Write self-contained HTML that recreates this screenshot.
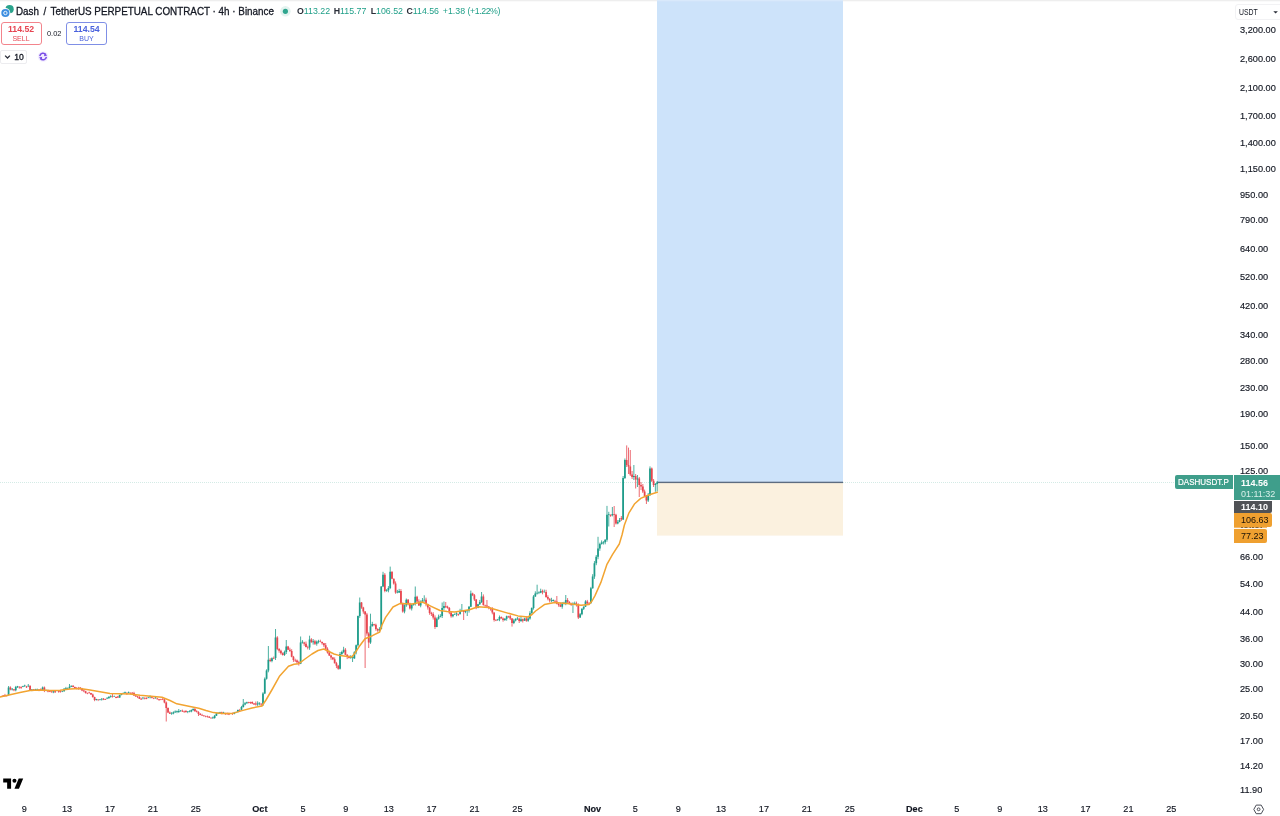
<!DOCTYPE html>
<html lang="en">
<head>
<meta charset="utf-8">
<title>DASHUSDT.P chart</title>
<style>
html,body{margin:0;padding:0;background:#fff;}
body{width:1280px;height:816px;overflow:hidden;position:relative;font-family:"Liberation Sans",sans-serif;color:#131722;}
#chart{position:absolute;left:0;top:0;width:1280px;height:816px;}
.pl{position:absolute;left:1240px;width:40px;height:12px;line-height:12px;font-size:9.2px;color:#131722;white-space:nowrap;-webkit-text-stroke:0.15px #131722;}
.tl{position:absolute;top:802.8px;width:40px;height:12px;line-height:12px;text-align:center;font-size:9.1px;color:#131722;-webkit-text-stroke:0.15px #131722;}
.tl.b{font-weight:bold;}
.abs{position:absolute;white-space:nowrap;}
#title{left:16px;top:3.9px;height:15px;line-height:15px;font-size:10.8px;color:#131722;-webkit-text-stroke:0.3px #131722;transform:scaleX(0.9127);transform-origin:0 0;}
#ohlc{left:297px;top:5.4px;width:210px;height:13px;line-height:13px;font-size:8.8px;color:#1f9f88;}
#ohlc b{color:#2a2e39;font-weight:bold;}
#ohlc span{position:absolute;top:0;}
.box{position:absolute;box-sizing:border-box;border-radius:3px;text-align:center;}
.box .p{display:block;font-size:8.7px;font-weight:bold;line-height:10px;margin-top:0.6px;}
.box .l{display:block;font-size:7px;line-height:9px;margin-top:0.2px;}
.lab{position:absolute;box-sizing:border-box;white-space:nowrap;font-size:9px;}
</style>
</head>
<body>
<svg id="chart" width="1280" height="816" viewBox="0 0 1280 816">
  <rect x="0" y="0" width="1280" height="816" fill="#ffffff"/>
  <rect x="0" y="0" width="1280" height="1.3" fill="#eeeeee"/>
  <!-- long position: target zone and stop zone -->
  <rect x="657" y="0" width="186" height="482" fill="#cde3fa"/>
  <rect x="657" y="0" width="186" height="1.3" fill="#d9e9fb"/>
  <rect x="657" y="483" width="186" height="52.6" fill="#fbf1df"/>
  <rect x="657" y="481.7" width="186" height="1.4" fill="#5d6c80"/>
  <!-- last price dotted line -->
  <line x1="0" y1="482.4" x2="657" y2="482.4" stroke="#a9d6cd" stroke-width="0.8" stroke-dasharray="1 1" opacity="0.7"/>
  <line x1="843" y1="482.4" x2="1176" y2="482.4" stroke="#a9d6cd" stroke-width="0.8" stroke-dasharray="1 1" opacity="0.7"/>
  <!-- hidden label sliver between the two orange labels -->
  <rect x="1234" y="526.9" width="33" height="1.2" fill="#f3b96a"/>
  <line x1="1241" y1="527.5" x2="1263" y2="527.5" stroke="#5a4520" stroke-width="1" stroke-dasharray="2 1.5 3 2 1.5 1" opacity="0.7"/>
  <!-- candles -->
  <g fill="none" stroke-linecap="butt">
    <path stroke="#1f9c8a" stroke-width="0.9" opacity="0.9" d="M8.57 686.0V695.7M12.16 688.0V690.5M15.74 685.9V691.3M17.53 685.9V688.0M22.91 685.8V687.2M24.70 684.7V687.0M28.28 684.0V687.1M31.87 689.0V691.2M35.45 688.8V690.3M37.24 688.6V690.5M42.62 686.5V690.7M46.20 689.6V691.2M53.37 691.1V693.2M56.95 690.2V691.3M62.33 690.6V692.1M64.12 688.1V692.0M65.91 686.9V689.9M67.70 687.5V689.3M69.49 684.0V689.0M71.28 685.5V687.1M96.37 698.8V700.5M99.95 699.0V700.4M101.74 698.1V700.6M107.12 697.0V699.1M108.91 696.4V699.0M110.70 695.2V697.7M114.28 695.6V696.8M119.66 694.6V697.9M121.45 693.2V695.3M123.24 692.4V694.0M125.03 691.6V693.3M128.62 691.5V693.4M142.95 697.0V699.4M148.32 696.8V698.2M150.12 695.4V698.4M155.49 696.8V698.6M171.62 712.1V714.8M173.41 711.4V714.3M175.20 710.4V713.0M176.99 710.5V713.2M178.78 709.0V712.9M180.57 710.2V711.8M187.74 711.1V713.2M189.53 710.3V712.3M191.32 709.4V712.3M193.12 708.3V711.1M212.82 716.6V718.7M214.62 714.9V718.7M216.41 712.7V716.0M218.20 712.5V714.1M219.99 711.8V713.6M223.57 711.8V713.5M230.74 713.0V714.0M234.32 711.9V714.3M236.12 711.6V713.1M237.91 709.5V712.5M241.49 705.9V710.2M243.28 699.0V707.6M245.07 702.0V705.3M246.87 701.7V703.8M257.62 701.3V705.9M259.41 702.4V705.3M262.99 692.2V706.0M264.78 677.4V694.1M266.57 669.3V679.6M268.37 646.0V672.3M271.95 657.4V662.3M275.53 629.0V660.0M284.49 650.6V655.9M286.28 640.0V654.0M300.62 636.5V664.1M302.41 640.1V643.6M309.57 635.7V649.8M313.16 639.0V644.6M316.74 640.5V645.7M318.53 639.8V643.4M340.03 652.0V669.5M341.82 650.7V655.4M343.62 646.8V653.2M350.78 655.1V658.8M352.57 655.5V662.0M354.37 651.2V658.7M356.16 644.5V654.3M357.95 615.6V646.6M359.74 597.5V617.8M370.49 613.7V643.9M372.28 621.8V626.5M379.45 627.2V631.5M381.24 586.1V629.4M383.03 571.8V587.1M386.62 589.1V591.8M388.41 586.1V592.3M390.20 566.6V589.1M397.37 589.9V593.3M399.16 588.9V593.0M404.53 604.3V613.3M406.32 598.5V606.8M411.70 603.8V610.5M413.49 603.7V605.6M415.28 586.5V605.5M420.66 600.4V607.3M422.45 598.0V603.1M424.24 595.3V601.8M436.78 617.5V627.2M438.57 614.6V619.7M440.37 614.2V617.4M442.16 602.5V618.0M443.95 601.5V609.9M452.91 614.1V617.4M454.70 613.4V615.0M456.49 612.2V616.2M460.07 608.8V614.7M461.87 604.0V611.8M465.45 610.2V613.2M467.24 609.8V616.0M469.03 606.0V612.6M470.82 590.6V607.1M477.99 603.9V608.2M479.78 599.9V604.9M481.57 592.0V603.0M497.70 618.9V620.9M499.49 615.5V621.2M504.87 618.1V620.9M506.66 615.6V620.7M513.83 618.8V624.1M515.62 618.2V621.4M517.41 616.9V620.0M520.99 616.8V621.9M524.58 617.8V620.9M528.16 616.5V621.8M529.95 611.2V619.7M531.74 607.4V613.6M533.53 595.1V609.6M535.33 591.3V596.9M537.12 584.7V594.5M538.91 591.4V594.1M540.70 588.7V593.2M544.28 589.6V592.6M551.45 597.8V602.2M553.24 599.4V601.5M562.20 602.0V608.7M563.99 601.8V604.5M565.78 595.0V605.2M572.95 602.3V613.0M574.74 601.6V604.4M580.12 613.0V618.0M581.91 608.3V615.3M583.70 606.3V610.0M585.49 600.2V607.0M590.87 586.9V604.0M592.66 574.2V588.7M594.45 561.1V578.9M596.24 555.0V565.2M598.03 536.8V559.2M599.83 542.7V550.8M601.62 540.4V544.6M603.41 541.1V544.5M605.20 539.2V544.3M606.99 505.9V541.7M608.78 511.8V526.5M612.37 507.0V516.4M617.74 520.1V524.3M619.53 518.0V522.3M623.12 476.0V520.0M624.91 458.5V479.0M633.87 465.0V480.0M637.45 475.0V487.0M648.20 493.0V502.0M649.99 466.4V496.0M655.37 483.0V491.8M657.16 481.0V491.5"/>
    <path stroke="#e8464f" stroke-width="0.9" opacity="0.9" d="M1.41 695.8V696.9M3.20 695.1V697.0M4.99 693.9V696.9M6.78 695.2V696.7M10.37 686.3V690.3M13.95 689.0V691.2M19.32 686.1V688.7M21.12 686.2V688.9M26.49 685.9V688.0M30.07 685.5V690.9M33.66 689.0V691.0M39.03 689.1V691.2M40.83 688.3V690.9M44.41 686.5V692.1M47.99 689.7V692.3M49.78 690.0V692.1M51.58 690.9V692.6M55.16 691.0V692.9M58.74 690.0V692.8M60.53 690.0V692.6M73.08 685.2V687.3M74.87 686.6V688.4M76.66 687.1V689.3M78.45 686.9V689.7M80.24 687.2V689.7M82.03 687.9V691.2M83.83 689.3V692.2M85.62 690.8V693.6M87.41 692.6V694.2M89.20 691.7V693.7M90.99 692.8V695.0M92.78 693.6V697.7M94.58 696.7V701.2M98.16 699.3V701.1M103.53 698.0V700.1M105.33 698.7V700.0M112.49 693.0V697.6M116.08 696.5V698.2M117.87 695.9V697.9M126.83 692.2V694.5M130.41 692.3V694.4M132.20 692.0V694.6M133.99 691.8V696.0M135.78 695.1V696.8M137.57 696.0V698.1M139.37 696.1V699.0M141.16 697.7V699.8M144.74 697.5V699.4M146.53 697.3V699.2M151.91 696.4V698.4M153.70 697.6V699.1M157.28 697.8V699.5M159.07 698.9V700.9M160.87 698.8V700.2M162.66 698.1V700.1M164.45 698.4V703.3M166.24 701.5V721.5M168.03 707.4V713.1M169.82 711.4V714.0M182.37 709.6V712.0M184.16 710.6V712.9M185.95 710.1V712.7M194.91 708.0V711.6M196.70 710.2V712.5M198.49 711.2V716.0M200.28 713.0V715.2M202.07 713.8V716.0M203.87 715.2V716.8M205.66 715.6V717.3M207.45 715.6V717.6M209.24 716.0V717.9M211.03 717.4V718.7M221.78 711.7V714.3M225.37 712.7V715.0M227.16 712.5V714.9M228.95 712.7V715.1M232.53 712.6V714.9M239.70 708.9V711.5M248.66 701.8V703.4M250.45 701.7V703.9M252.24 701.4V704.1M254.03 703.0V704.7M255.82 701.5V705.6M261.20 703.2V706.5M270.16 658.1V662.1M273.74 656.5V659.1M277.32 636.2V650.2M279.12 648.1V652.7M280.91 649.7V654.6M282.70 652.4V655.6M288.07 645.9V650.0M289.87 647.7V652.0M291.66 649.2V657.3M293.45 655.9V661.9M295.24 658.7V662.0M297.03 659.5V663.9M298.82 660.8V665.6M304.20 641.8V645.8M305.99 641.5V647.4M307.78 645.7V649.4M311.37 638.1V642.7M314.95 639.9V645.0M320.32 639.7V642.3M322.12 641.5V644.7M323.91 642.9V647.1M325.70 643.0V650.3M327.49 647.3V653.6M329.28 650.6V656.0M331.07 654.7V659.8M332.87 656.9V660.1M334.66 657.4V663.5M336.45 661.9V668.1M338.24 664.9V669.7M345.41 648.1V655.1M347.20 654.2V659.1M348.99 655.4V658.5M361.53 602.0V608.8M363.32 606.8V613.7M365.12 611.1V668.0M366.91 612.9V635.7M368.70 632.2V648.0M374.07 623.8V626.2M375.87 623.6V630.7M377.66 628.3V631.8M384.82 573.1V592.3M391.99 571.4V579.2M393.78 578.5V584.6M395.57 581.4V593.8M400.95 589.1V604.6M402.74 602.6V612.7M408.12 599.0V605.4M409.91 602.7V609.5M417.07 595.8V602.6M418.87 599.3V605.9M426.03 597.7V606.3M427.82 603.7V609.6M429.62 607.1V614.8M431.41 611.8V616.0M433.20 612.2V619.6M434.99 615.4V629.0M445.74 602.0V608.1M447.53 605.7V608.7M449.32 607.0V614.2M451.12 611.3V617.7M458.28 613.6V615.9M463.66 610.2V620.0M472.62 592.7V596.1M474.41 594.0V601.0M476.20 599.0V609.2M483.37 594.4V605.7M485.16 604.7V607.0M486.95 600.0V607.2M488.74 606.2V609.3M490.53 607.4V610.6M492.32 607.2V614.3M494.12 612.4V621.6M495.91 619.0V621.1M501.28 616.4V618.6M503.07 617.5V621.7M508.45 615.8V617.8M510.24 614.9V620.0M512.03 618.0V626.6M519.20 617.6V623.0M522.78 618.6V622.5M526.37 616.3V621.8M542.49 589.6V594.3M546.08 589.8V597.8M547.87 595.3V600.3M549.66 598.3V602.4M555.03 599.9V603.0M556.83 596.0V604.3M558.62 603.1V606.7M560.41 602.7V607.1M567.58 598.1V603.6M569.37 601.1V604.5M571.16 602.7V605.9M576.53 601.6V606.5M578.33 603.4V619.0M587.28 599.9V603.8M589.08 602.1V604.5M610.58 514.3V516.8M614.16 506.0V527.0M615.95 513.8V524.5M621.33 516.0V521.0M626.70 445.4V467.0M628.49 447.6V474.0M630.28 450.0V476.0M632.08 471.0V479.0M635.66 474.0V488.5M639.24 477.0V497.0M641.03 482.0V490.0M642.83 484.0V493.0M644.62 489.6V497.0M646.41 495.0V504.0M651.78 467.5V482.0M653.58 479.0V487.0"/>
    <path stroke="#1f9c8a" stroke-width="1.75" d="M8.57 687.5V695.0M12.16 688.8V689.5M15.74 687.0V690.3M17.53 686.3V687.0M22.91 686.1V686.8M24.70 685.4V686.1M28.28 685.7V686.2M31.87 689.4V690.0M35.45 689.3V689.9M37.24 689.4V690.0M42.62 687.5V690.0M46.20 690.3V691.0M53.37 691.3V692.3M56.95 690.5V691.0M62.33 691.0V691.6M64.12 688.8V691.0M65.91 688.0V688.8M67.70 688.0V688.5M69.49 686.8V688.0M71.28 685.8V686.8M96.37 699.1V700.0M99.95 699.5V700.1M101.74 698.7V699.5M107.12 697.9V698.5M108.91 696.7V697.9M110.70 696.0V696.7M114.28 696.0V696.6M119.66 694.9V697.5M121.45 693.5V694.9M123.24 692.9V693.5M125.03 692.3V692.9M128.62 692.2V693.0M142.95 697.8V698.3M148.32 697.2V697.8M150.12 696.6V697.2M155.49 697.5V698.2M171.62 713.2V713.7M173.41 712.3V713.4M175.20 711.4V712.3M176.99 711.3V712.1M178.78 711.0V712.0M180.57 710.5V711.0M187.74 711.4V712.0M189.53 711.4V712.0M191.32 710.1V711.4M193.12 709.0V710.1M212.82 717.4V718.2M214.62 715.7V718.0M216.41 713.4V715.7M218.20 712.8V713.4M219.99 712.3V713.4M223.57 712.1V712.6M230.74 713.2V713.8M234.32 712.5V713.7M236.12 711.9V712.5M237.91 710.0V711.9M241.49 707.0V709.7M243.28 704.5V707.0M245.07 703.2V704.5M246.87 702.3V703.2M257.62 703.5V704.5M259.41 702.7V703.5M262.99 693.5V703.8M264.78 678.8V693.5M266.57 670.4V678.8M268.37 659.7V670.4M271.95 658.2V661.0M275.53 637.6V658.0M284.49 652.0V655.0M286.28 646.5V652.0M300.62 642.4V663.7M302.41 641.7V642.4M309.57 639.4V647.5M313.16 641.2V642.3M316.74 641.7V643.8M318.53 641.1V641.7M340.03 654.0V668.8M341.82 652.1V654.0M343.62 649.7V652.1M350.78 657.3V658.1M352.57 657.3V658.0M354.37 652.3V658.5M356.16 645.3V652.3M357.95 615.9V645.3M359.74 602.6V615.9M370.49 626.2V642.4M372.28 624.0V626.2M379.45 629.0V630.6M381.24 586.5V629.0M383.03 574.7V586.5M386.62 590.3V590.9M388.41 587.9V590.3M390.20 571.8V587.9M397.37 591.7V592.4M399.16 590.9V592.6M404.53 605.3V611.5M406.32 599.7V605.3M411.70 605.0V608.5M413.49 604.0V605.0M415.28 596.8V604.0M420.66 602.2V605.6M422.45 600.3V602.2M424.24 599.7V600.3M436.78 618.8V627.0M438.57 616.8V618.8M440.37 615.9V616.8M442.16 608.0V615.9M443.95 606.0V608.0M452.91 614.6V616.3M454.70 613.9V614.6M456.49 613.3V613.9M460.07 611.0V614.0M461.87 610.2V611.0M465.45 611.0V612.0M467.24 610.4V611.0M469.03 606.8V610.4M470.82 593.5V606.8M477.99 604.2V608.0M479.78 602.0V604.2M481.57 596.5V602.0M497.70 619.6V620.1M499.49 617.0V619.6M504.87 618.7V620.0M506.66 616.2V618.7M513.83 620.5V623.0M515.62 619.0V620.5M517.41 618.4V619.0M520.99 619.2V620.9M524.58 618.4V620.7M528.16 618.5V620.7M529.95 613.3V618.5M531.74 608.0V613.3M533.53 596.5V608.0M535.33 593.5V596.5M537.12 592.8V593.5M538.91 592.2V592.8M540.70 590.9V592.7M544.28 591.7V592.3M551.45 599.9V600.6M553.24 600.0V600.9M562.20 603.5V606.8M563.99 602.7V603.5M565.78 600.0V603.1M572.95 603.7V604.9M574.74 602.9V603.7M580.12 614.2V617.6M581.91 608.8V614.2M583.70 606.7V608.8M585.49 601.5V606.7M590.87 588.2V603.0M592.66 576.5V588.2M594.45 563.2V576.5M596.24 556.8V563.2M598.03 548.5V556.8M599.83 544.0V548.5M601.62 542.6V544.0M603.41 542.1V542.6M605.20 539.7V542.2M606.99 514.7V539.7M608.78 514.1V514.7M612.37 514.0V515.3M617.74 522.0V523.5M619.53 519.9V522.0M623.12 478.0V519.5M624.91 460.0V478.0M633.87 476.0V477.0M637.45 478.5V479.6M648.20 495.0V500.6M649.99 468.6V495.0M655.37 484.0V485.0M657.16 482.4V484.0"/>
    <path stroke="#e8464f" stroke-width="1.75" d="M1.41 696.0V696.6M3.20 695.5V696.2M4.99 695.0V695.7M6.78 695.5V696.0M10.37 687.5V689.5M13.95 689.3V690.3M19.32 687.2V687.7M21.12 687.3V688.0M26.49 686.5V687.3M30.07 685.8V690.0M33.66 689.4V689.9M39.03 689.4V690.2M40.83 689.4V690.0M44.41 687.5V691.0M47.99 690.5V691.4M49.78 690.3V691.8M51.58 691.8V692.3M55.16 691.3V692.2M58.74 691.0V691.7M60.53 691.2V691.8M73.08 685.8V687.0M74.87 687.0V688.2M76.66 688.2V689.0M78.45 688.0V688.6M80.24 687.6V688.5M82.03 688.5V690.5M83.83 690.5V691.2M85.62 691.2V693.0M87.41 693.0V693.6M89.20 692.5V693.0M90.99 693.0V694.5M92.78 694.5V697.0M94.58 697.0V700.0M98.16 699.6V700.1M103.53 698.7V699.4M105.33 698.9V699.7M112.49 696.0V696.6M116.08 697.0V697.9M117.87 696.6V697.5M126.83 693.4V694.2M130.41 692.9V693.5M132.20 692.7V693.5M133.99 693.0V695.5M135.78 695.5V696.4M137.57 696.4V697.0M139.37 697.0V698.7M141.16 698.7V699.6M144.74 697.8V698.4M146.53 698.2V699.0M151.91 697.2V698.0M153.70 698.0V698.5M157.28 698.5V699.3M159.07 699.3V700.1M160.87 699.3V699.8M162.66 698.9V699.4M164.45 699.4V702.4M166.24 702.4V708.0M168.03 708.0V712.6M169.82 712.6V713.7M182.37 710.7V711.4M184.16 711.4V712.1M185.95 711.0V712.0M194.91 709.0V711.2M196.70 711.2V712.1M198.49 712.1V714.0M200.28 714.0V714.9M202.07 714.9V715.5M203.87 715.5V716.0M205.66 716.0V716.5M207.45 716.5V717.1M209.24 716.7V717.7M211.03 717.7V718.2M221.78 712.3V713.1M225.37 713.1V713.9M227.16 713.2V713.8M228.95 713.8V714.4M232.53 713.2V714.0M239.70 710.0V710.6M248.66 702.3V703.1M250.45 702.0V702.8M252.24 702.0V703.6M254.03 703.6V704.4M255.82 703.4V704.5M261.20 703.7V704.4M270.16 659.7V661.0M273.74 658.2V658.7M277.32 637.6V649.0M279.12 649.0V650.8M280.91 650.8V653.2M282.70 653.2V655.0M288.07 646.5V649.8M289.87 649.8V651.0M291.66 651.0V656.7M293.45 656.7V660.0M295.24 660.0V660.5M297.03 660.5V662.2M298.82 662.2V663.7M304.20 642.6V643.8M305.99 643.8V646.9M307.78 646.9V647.5M311.37 639.4V642.3M314.95 641.2V643.8M320.32 641.6V642.1M322.12 642.0V643.2M323.91 643.2V645.3M325.70 645.3V648.7M327.49 648.7V652.5M329.28 652.5V655.6M331.07 655.6V657.5M332.87 657.5V659.3M334.66 659.3V663.3M336.45 663.3V665.7M338.24 665.7V668.8M345.41 649.7V654.8M347.20 654.8V657.0M348.99 657.0V658.1M361.53 602.6V607.6M363.32 607.6V611.5M365.12 611.5V614.4M366.91 614.4V633.5M368.70 633.5V642.4M374.07 624.0V624.7M375.87 624.7V628.9M377.66 628.9V630.6M384.82 574.7V590.9M391.99 571.8V578.8M393.78 578.8V583.5M395.57 583.5V592.4M400.95 590.9V604.0M402.74 604.0V611.5M408.12 599.7V603.8M409.91 603.8V608.5M417.07 596.8V601.6M418.87 601.6V605.6M426.03 599.7V604.0M427.82 604.0V607.6M429.62 607.6V613.0M431.41 613.0V614.1M433.20 614.1V617.4M434.99 617.4V627.0M445.74 606.0V606.8M447.53 606.8V608.1M449.32 608.1V612.6M451.12 612.6V616.3M458.28 614.1V614.7M463.66 611.0V612.0M472.62 593.5V595.3M474.41 595.3V599.4M476.20 599.4V608.0M483.37 596.5V605.0M485.16 605.0V605.5M486.95 605.5V606.6M488.74 606.6V608.0M490.53 608.0V609.1M492.32 609.1V612.6M494.12 612.6V620.0M495.91 620.0V620.6M501.28 617.0V618.4M503.07 618.4V620.0M508.45 616.2V616.7M510.24 616.3V618.4M512.03 618.4V623.0M519.20 618.7V620.9M522.78 619.2V620.7M526.37 618.4V620.7M542.49 590.9V592.3M546.08 592.0V596.9M547.87 596.9V598.7M549.66 598.7V600.6M555.03 601.0V601.6M556.83 601.6V603.8M558.62 603.8V604.9M560.41 604.9V606.8M567.58 600.0V602.0M569.37 602.0V603.8M571.16 603.8V604.9M576.53 603.5V604.6M578.33 604.6V617.6M587.28 601.5V603.4M589.08 603.4V604.2M610.58 515.0V515.7M614.16 514.0V514.7M615.95 514.7V523.5M621.33 518.0V519.5M626.70 460.0V465.0M628.49 465.0V466.5M630.28 466.5V474.5M632.08 474.5V477.0M635.66 476.0V479.6M639.24 478.5V485.0M641.03 485.0V486.5M642.83 486.5V491.5M644.62 491.5V496.0M646.41 496.0V500.6M651.78 468.6V480.7M653.58 480.7V485.0"/>
  </g>
  <!-- moving average -->
  <path d="M0.0 696.9 L10.0 694.7 L20.0 692.5 L30.0 690.4 L40.0 690.0 L50.0 690.5 L60.0 690.3 L70.0 689.0 L80.0 688.6 L90.0 690.0 L100.0 691.8 L110.0 693.5 L130.0 694.0 L140.0 695.3 L162.0 697.2 L170.0 700.5 L176.8 703.8 L190.0 706.5 L198.8 708.2 L206.0 710.5 L213.5 712.6 L222.0 713.4 L232.6 713.4 L243.0 710.4 L252.0 708.0 L262.0 706.0 L266.0 700.0 L272.4 689.0 L279.7 675.9 L288.5 666.3 L294.0 664.3 L298.8 663.7 L305.0 659.0 L312.0 654.0 L318.0 650.5 L323.8 649.0 L329.0 651.5 L334.0 654.0 L340.0 655.6 L351.8 657.0 L355.0 653.0 L359.0 646.8 L365.0 638.7 L372.4 635.7 L379.7 632.0 L382.0 625.0 L385.6 617.4 L393.0 607.0 L400.3 603.4 L412.0 604.0 L422.4 602.0 L431.2 606.3 L440.0 610.5 L447.0 611.5 L454.7 612.0 L469.4 609.7 L478.0 606.8 L488.5 607.5 L497.0 610.0 L506.0 612.6 L518.0 615.9 L528.0 617.0 L532.0 614.5 L535.6 611.0 L544.4 604.6 L554.7 602.4 L569.4 603.8 L581.0 605.3 L589.0 604.6 L592.0 601.0 L595.0 595.6 L600.9 582.4 L606.8 564.7 L612.6 554.4 L619.3 544.0 L622.0 535.0 L624.4 525.0 L628.8 513.2 L634.7 503.7 L640.7 498.4 L646.0 496.0 L651.7 494.0 L657.2 492.3" fill="none" stroke="#f2a431" stroke-width="1.5" stroke-linejoin="round" stroke-linecap="round"/>
  <!-- TradingView logo -->
  <g transform="translate(3.2,776.2) scale(0.563,0.565)" fill="#000">
    <path d="M14 22H7V11H0V4h14v18z"/>
    <circle cx="20" cy="8" r="3.6"/>
    <path d="M28 22h-8l7.5-18h8L28 22z"/>
  </g>
  <!-- symbol logo -->
  <circle cx="9.6" cy="9.2" r="4.1" fill="#2aa38c"/>
  <circle cx="5.4" cy="13" r="4.9" fill="#ffffff"/>
  <circle cx="5.4" cy="13" r="4.1" fill="#3d8ee0"/>
  <circle cx="5.4" cy="13" r="1.7" fill="none" stroke="#ffffff" stroke-width="0.9"/>
  <!-- market status dot -->
  <circle cx="285.4" cy="11.3" r="5.2" fill="#e3f3ef"/>
  <circle cx="285.4" cy="11.3" r="2.6" fill="#2fa58e"/>
  <!-- chevron -->
  <path d="M5.1 55.6l2.4 2.4 2.4-2.4" fill="none" stroke="#2a2e39" stroke-width="1.3"/>
  <!-- refresh icon -->
  <circle cx="43.1" cy="56.5" r="5.3" fill="#f3eeff"/>
  <path d="M39.8 56.1a3.35 3.35 0 0 1 6-1.6M46.4 56.9a3.35 3.35 0 0 1-6 1.6" fill="none" stroke="#7a4de6" stroke-width="1.5"/>
  <path d="M44.6 53l2.6 2.6-3.2.6zM41.6 60l-2.6-2.6 3.2-.6z" fill="#7a4de6"/>
  <!-- USDT dropdown arrow -->
  <path d="M1273.3 11.2l2.3 2.2 2.3-2.2z" fill="#2a2e39"/>
  <!-- settings icon -->
  <g fill="none" stroke="#4a4d57" stroke-width="1">
    <path d="M1256.2 805.1h5l2.4 4.3-2.4 4.3h-5l-2.4-4.3z" stroke-linejoin="round"/>
    <circle cx="1258.6" cy="809.3" r="1.4"/>
  </g>
</svg>

<div class="abs" id="title"><span style="word-spacing:1.8px">Dash / </span>TetherUS PERPETUAL CONTRACT · 4h · Binance</div>
<div class="abs" id="ohlc"><span style="left:0"><b>O</b>113.22</span> <span style="left:36.7px"><b>H</b>115.77</span> <span style="left:73.7px"><b>L</b>106.52</span> <span style="left:109.4px"><b>C</b>114.56</span> <span style="left:145.8px">+1.38</span> <span style="left:170.6px;letter-spacing:-0.45px">(+1.22%)</span></div>

<div class="box" style="left:0.5px;top:22px;width:41px;height:22.5px;border:1px solid #f3848c;color:#e64552;"><span class="p">114.52</span><span class="l">SELL</span></div>
<div class="abs" style="left:47px;top:28px;font-size:7.4px;line-height:11px;color:#131722;">0.02</div>
<div class="box" style="left:66px;top:22px;width:41px;height:22.5px;border:1px solid #7f8fe6;color:#4a62dd;"><span class="p">114.54</span><span class="l">BUY</span></div>

<div class="box" style="left:0px;top:50px;width:27px;height:13.7px;border:1px solid #ececef;border-radius:2px;"></div>
<div class="abs" style="left:14.2px;top:50.7px;font-size:8.6px;line-height:12px;color:#131722;-webkit-text-stroke:0.3px #131722;">10</div>

<div class="box" style="left:1235px;top:3.5px;width:50px;height:16.5px;border:1px solid #f2f2f4;border-radius:3px;"></div>
<div class="abs" style="left:1238.5px;top:7.2px;font-size:8.2px;line-height:12px;color:#131722;transform:scaleX(0.84);transform-origin:0 0;">USDT</div>

<div class="pl" style="top:24.3px">3,200.00</div>
<div class="pl" style="top:52.5px">2,600.00</div>
<div class="pl" style="top:81.5px">2,100.00</div>
<div class="pl" style="top:110.2px">1,700.00</div>
<div class="pl" style="top:136.5px">1,400.00</div>
<div class="pl" style="top:163.2px">1,150.00</div>
<div class="pl" style="top:189.1px">950.00</div>
<div class="pl" style="top:214.2px">790.00</div>
<div class="pl" style="top:242.8px">640.00</div>
<div class="pl" style="top:271.0px">520.00</div>
<div class="pl" style="top:299.9px">420.00</div>
<div class="pl" style="top:328.6px">340.00</div>
<div class="pl" style="top:355.0px">280.00</div>
<div class="pl" style="top:381.7px">230.00</div>
<div class="pl" style="top:407.6px">190.00</div>
<div class="pl" style="top:439.7px">150.00</div>
<div class="pl" style="top:465.1px">125.00</div>
<div class="pl" style="top:551.1px">66.00</div>
<div class="pl" style="top:578.4px">54.00</div>
<div class="pl" style="top:606.2px">44.00</div>
<div class="pl" style="top:633.4px">36.00</div>
<div class="pl" style="top:658.2px">30.00</div>
<div class="pl" style="top:682.9px">25.00</div>
<div class="pl" style="top:709.9px">20.50</div>
<div class="pl" style="top:735.3px">17.00</div>
<div class="pl" style="top:759.7px">14.20</div>
<div class="pl" style="top:783.7px">11.90</div>

<div class="tl" style="left:4.2px">9</div>
<div class="tl" style="left:47.1px">13</div>
<div class="tl" style="left:90.0px">17</div>
<div class="tl" style="left:132.9px">21</div>
<div class="tl" style="left:175.8px">25</div>
<div class="tl b" style="left:239.9px">Oct</div>
<div class="tl" style="left:283.0px">5</div>
<div class="tl" style="left:325.9px">9</div>
<div class="tl" style="left:368.7px">13</div>
<div class="tl" style="left:411.6px">17</div>
<div class="tl" style="left:454.5px">21</div>
<div class="tl" style="left:497.4px">25</div>
<div class="tl b" style="left:572.6px">Nov</div>
<div class="tl" style="left:615.3px">5</div>
<div class="tl" style="left:658.2px">9</div>
<div class="tl" style="left:701.1px">13</div>
<div class="tl" style="left:743.9px">17</div>
<div class="tl" style="left:786.8px">21</div>
<div class="tl" style="left:829.7px">25</div>
<div class="tl b" style="left:894.4px">Dec</div>
<div class="tl" style="left:936.9px">5</div>
<div class="tl" style="left:979.8px">9</div>
<div class="tl" style="left:1022.7px">13</div>
<div class="tl" style="left:1065.5px">17</div>
<div class="tl" style="left:1108.4px">21</div>
<div class="tl" style="left:1151.3px">25</div>


<div class="lab" style="left:1175px;top:475.2px;width:58px;height:13.8px;background:#3f9e8b;border-radius:2px 0 0 2px;color:#fff;line-height:14px;padding-left:3.3px;font-size:8.9px;-webkit-text-stroke:0.2px #fff;"><span style="display:inline-block;transform:scaleX(0.905);transform-origin:0 50%;">DASHUSDT.P</span></div>
<div class="lab" style="left:1234px;top:475.2px;width:46px;height:25.3px;background:#3f9e8b;color:#fff;padding-left:7px;"><div style="line-height:12px;margin-top:1.5px;font-weight:bold;">114.56</div><div style="line-height:10px;color:#d9f0ea;">01:11:32</div></div>
<div class="lab" style="left:1234px;top:500.5px;width:38px;height:12.7px;background:#505256;color:#fff;padding-left:7px;line-height:13px;font-weight:bold;border-radius:0 0 2px 0;">114.10</div>
<div class="lab" style="left:1234px;top:513.2px;width:38px;height:13.6px;background:#efa030;color:#1a1208;padding-left:7px;line-height:15px;border-radius:0 2px 2px 0;">106.63</div>
<div class="lab" style="left:1234px;top:529.3px;width:33px;height:13.3px;background:#efa030;color:#1a1208;padding-left:7px;line-height:14px;border-radius:0 2px 2px 0;">77.23</div>
</body>
</html>
